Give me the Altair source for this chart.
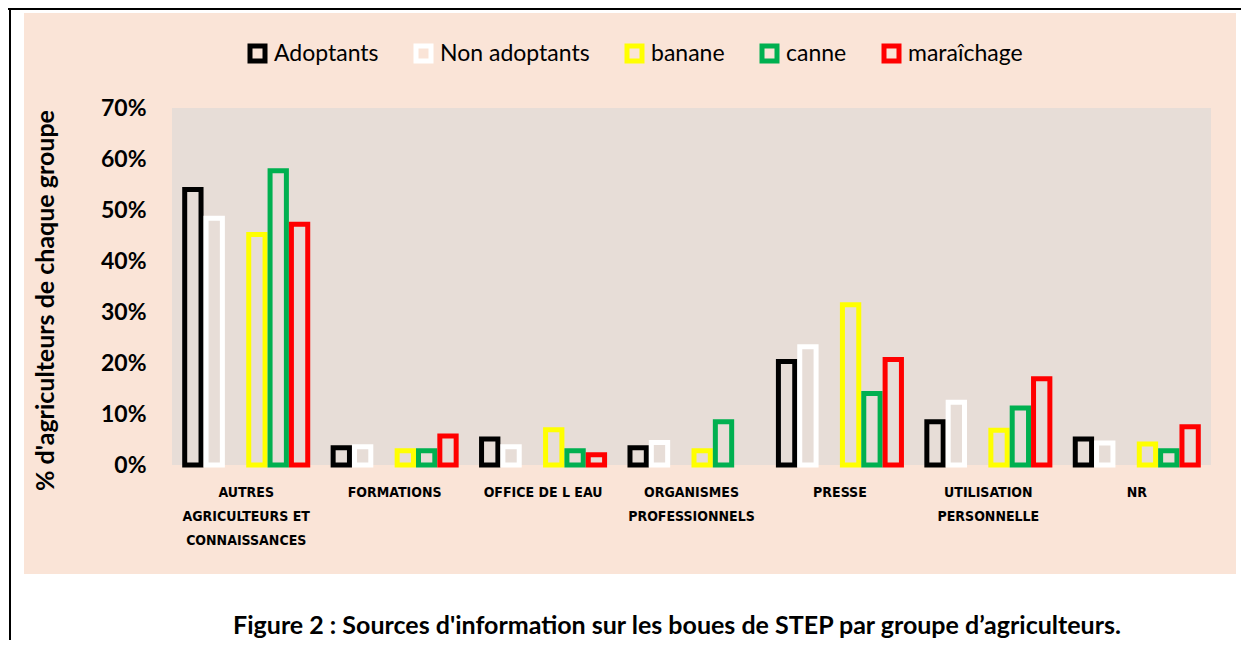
import json
import altair as alt
import pandas as pd

# ---------------- data ----------------
categories = [
    "AUTRES AGRICULTEURS ET CONNAISSANCES",
    "FORMATIONS",
    "OFFICE DE L EAU",
    "ORGANISMES PROFESSIONNELS",
    "PRESSE",
    "UTILISATION PERSONNELLE",
    "NR",
]
category_lines = [
    ["AUTRES", "AGRICULTEURS ET", "CONNAISSANCES"],
    ["FORMATIONS"],
    ["OFFICE DE L EAU"],
    ["ORGANISMES", "PROFESSIONNELS"],
    ["PRESSE"],
    ["UTILISATION", "PERSONNELLE"],
    ["NR"],
]
series_names = ["Adoptants", "Non adoptants", "banane", "canne", "maraîchage"]
series_colors = ["#000000", "#FFFFFF", "#FFFF00", "#00B050", "#FF0000"]
slot_order = ["Adoptants", "Non adoptants", "(vide)", "banane", "canne", "maraîchage"]

adoptants = [0.540, 0.034, 0.051, 0.034, 0.203, 0.085, 0.051]
non_adoptants = [0.484, 0.036, 0.036, 0.044, 0.232, 0.123, 0.043]
banane = [0.452, 0.028, 0.069, 0.028, 0.314, 0.068, 0.041]
canne = [0.577, 0.028, 0.028, 0.085, 0.140, 0.112, 0.028]
maraichage = [0.472, 0.057, 0.020, None, 0.207, 0.169, 0.075]

y_ticks = [0.0, 0.1, 0.2, 0.3, 0.4, 0.5, 0.6, 0.7]
y_title = "% d'agriculteurs de chaque groupe"
caption = ["Figure 2 : Sources d'information sur les boues de STEP par groupe d’agriculteurs."]

# ---------------- table ----------------
rows = []
for name, vals in zip(series_names, [adoptants, non_adoptants, banane, canne, maraichage]):
    for cat, v in zip(categories, vals):
        if v is not None:
            rows.append({"categorie": cat, "groupe": name, "valeur": v})
df = pd.DataFrame(rows)

# multi-line x labels
expr = "datum.label"
for cat, lines in reversed(list(zip(categories, category_lines))):
    expr = f"datum.label == {json.dumps(cat)} ? {json.dumps(lines)} : ({expr})"

W, H = 1039, 357
PEACH = "#FAE4D7"
GRAY = "#E7DDD7"

one = alt.Data(values=[{"k": 1}])

peach = alt.Chart(one).mark_rect(color=PEACH).encode(
    x=alt.value(-148), x2=alt.value(1064), y=alt.value(-95), y2=alt.value(466)
)
gray = alt.Chart(one).mark_rect(color=GRAY).encode(
    x=alt.value(0), x2=alt.value(W), y=alt.value(0), y2=alt.value(H)
)
border_top = alt.Chart(one).mark_rule(color="#000000", strokeWidth=2).encode(
    x=alt.value(-164), x2=alt.value(1080), y=alt.value(-99)
)
border_left = alt.Chart(one).mark_rule(color="#000000", strokeWidth=2).encode(
    x=alt.value(-162), y=alt.value(-100), y2=alt.value(540)
)

bars = alt.Chart(df).mark_bar(fill="transparent", strokeWidth=5, strokeOpacity=1).encode(
    x=alt.X(
        "categorie:N",
        sort=categories,
        scale=alt.Scale(paddingInner=0.1375, paddingOuter=0.0688),
        axis=alt.Axis(
            title=None,
            labelAngle=0,
            labelExpr=expr,
            labelFont="'Liberation Sans Narrow', 'DejaVu Sans Condensed', sans-serif",
            labelFontWeight="bold",
            labelFontSize=14,
            labelColor="#000000",
            labelBaseline="top",
            labelLineHeight=24,
            labelPadding=20,
            labelLimit=300,
            ticks=False,
            domain=False,
            zindex=2,
        ),
    ),
    xOffset=alt.XOffset(
        "groupe:N",
        scale=alt.Scale(domain=slot_order, paddingInner=0.235, paddingOuter=0.117),
    ),
    y=alt.Y(
        "valeur:Q",
        scale=alt.Scale(domain=[0, 0.7], nice=False),
        axis=alt.Axis(
            title=y_title,
            values=y_ticks,
            format=".0%",
            grid=False,
            domain=False,
            ticks=False,
            labelPadding=26,
            labelFont="Lato",
            labelFontWeight="bold",
            labelFontSize=23,
            labelColor="#000000",
            titleFont="Lato",
            titleFontWeight="bold",
            titleFontSize=25,
            titleColor="#000000",
            titleX=-127,
            titleY=192,
            titleBaseline="middle",
            zindex=2,
        ),
    ),
    stroke=alt.Stroke(
        "groupe:N",
        scale=alt.Scale(domain=series_names, range=series_colors),
        legend=alt.Legend(
            title=None,
            orient="none",
            direction="horizontal",
            legendX=74,
            legendY=-66,
            symbolType="square",
            symbolSize=225,
            symbolStrokeWidth=5,
            symbolFillColor="transparent",
            symbolOpacity=1,
            labelFont="Lato",
            labelFontSize=23,
            labelColor="#000000",
            labelOffset=5,
            labelLimit=400,
            columnPadding=27,
            zindex=2,
        ),
    ),
)

cap = alt.Chart(alt.Data(values=[{"t": c} for c in caption])).mark_text(
    font="Lato", fontWeight="bold", fontSize=25, color="#000000", align="center", baseline="middle"
).encode(text="t:N", x=alt.value(505), y=alt.value(518))

chart = alt.layer(peach, gray, border_top, border_left, bars, cap).properties(
    width=W,
    height=H,
    autosize=alt.AutoSizeParams(type="none"),
    padding={"left": 164, "top": 100, "right": 30, "bottom": 175},
).configure_view(strokeWidth=0).configure(background="#FFFFFF")

chart.save("out.html", embed_options={"renderer": "svg", "actions": False})
